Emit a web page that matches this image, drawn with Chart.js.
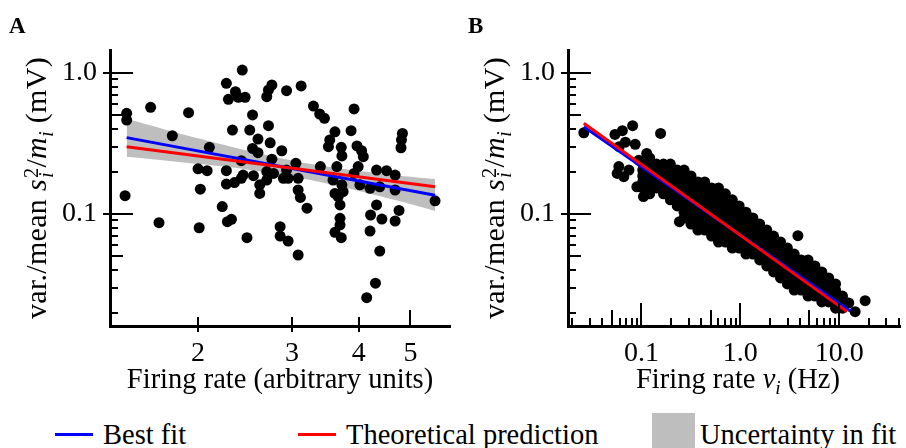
<!DOCTYPE html>
<html>
<head>
<meta charset="utf-8">
<script src="https://cdn.jsdelivr.net/npm/chart.js@4.4.1/dist/chart.umd.min.js"></script>
<style>
  body { margin:0; background:#fff; width:906px; height:448px; overflow:hidden; position:relative;
         font-family:"Liberation Serif", "Times New Roman", serif; color:#000; }
  canvas { position:absolute; top:0; }
  #chartA { left:0; }
  #chartB { left:460px; }
  .txt { position:absolute; font-size:28.5px; line-height:28.5px; white-space:nowrap; }
  .panel { position:absolute; font-weight:bold; font-size:23px; line-height:23px; }
  .ytitle { position:absolute; transform:translate(-50%,-50%) rotate(-90deg); font-size:30px; line-height:30px;
            letter-spacing:0.3px; white-space:nowrap; }
  .xtitle { position:absolute; transform:translateX(-50%); font-size:28.5px; line-height:28.5px; white-space:nowrap; }
  .ss { display:inline-block; vertical-align:-0.32em; line-height:0.72em; font-size:0.68em; margin-left:1px; }
  .ss span, .ss i { display:block; }
  .sb { font-size:0.68em; font-style:italic; vertical-align:-0.3em; }
  .swatch { position:absolute; }
</style>
</head>
<body>
<canvas id="chartA" width="460" height="400"></canvas>
<canvas id="chartB" width="446" height="400"></canvas>

<div class="panel" style="left:9px;top:14px">A</div>
<div class="panel" style="left:468px;top:14px">B</div>

<div class="ytitle" style="left:41px;top:188px">var./mean <i>s</i><span class="ss"><span>2</span><i>i</i></span>/<i>m</i><span class="sb">i</span> (mV)</div>
<div class="ytitle" style="left:499px;top:188px">var./mean <i>s</i><span class="ss"><span>2</span><i>i</i></span>/<i>m</i><span class="sb">i</span> (mV)</div>

<div class="xtitle" style="left:280px;top:365px">Firing rate (arbitrary units)</div>
<div class="xtitle" style="left:738px;top:365px">Firing rate <i>ν</i><span class="sb">i</span> (Hz)</div>

<div class="swatch" style="left:55px;top:433px;width:38px;height:3px;background:#0000ff"></div>
<div class="txt" style="left:103px;top:420.5px">Best fit</div>
<div class="swatch" style="left:298px;top:433px;width:38px;height:3px;background:#ff0000"></div>
<div class="txt" style="left:346px;top:420.5px">Theoretical prediction</div>
<div class="swatch" style="left:652px;top:413px;width:43px;height:43px;background:#bebebe"></div>
<div class="txt" style="left:700px;top:420.5px">Uncertainty in fit</div>

<script>
// ================= DATOS PANEL A =================
const rateA = [
  2.42, 2.26, 2.35, 2.28, 2.38, 2.45, 2.75, 2.71, 2.69, 2.93,
  1.63, 1.47, 1.47, 1.92, 2.53, 2.32, 2.50, 2.71, 1.79, 2.59,
  2.73, 2.10, 2.53, 2.59, 2.87, 2.75, 2.41, 2.00, 2.08, 2.26,
  2.43, 2.54, 2.69, 2.77, 2.69, 2.26, 2.34, 2.41, 2.61, 2.61,
  2.89, 1.46, 2.02, 2.22, 2.27, 2.31, 1.69, 2.01, 2.47, 2.85,
  2.85, 3.12, 3.29, 3.38, 3.45, 3.92, 3.61, 3.87, 3.53, 3.51,
  3.71, 3.72, 3.97, 4.05, 4.08, 4.83, 4.81, 4.80, 3.05, 2.93,
  2.95, 3.08, 3.39, 3.64, 3.99, 3.92, 4.32, 4.51, 4.68, 3.58,
  3.72, 4.02, 4.20, 4.38, 4.68, 3.08, 3.11, 3.20, 3.61, 3.74,
  3.66, 3.69, 4.32, 5.56, 4.21, 4.42, 4.76, 4.68, 3.69, 3.69,
  3.61, 3.71, 4.20, 2.95, 3.08, 4.38, 4.30, 4.14
];
const ratioA = [
  1.05, 0.845, 0.737, 0.651, 0.673, 0.673, 0.822, 0.758, 0.679, 0.749,
  0.571, 0.518, 0.464, 0.523, 0.504, 0.394, 0.394, 0.423, 0.359, 0.340,
  0.320, 0.297, 0.292, 0.272, 0.281, 0.245, 0.239, 0.209, 0.203, 0.203,
  0.189, 0.187, 0.200, 0.194, 0.174, 0.163, 0.167, 0.179, 0.161, 0.140,
  0.179, 0.135, 0.150, 0.113, 0.0882, 0.0917, 0.0868, 0.0799, 0.0679, 0.0813,
  0.0698, 0.809, 0.583, 0.512, 0.477, 0.556, 0.383, 0.390, 0.335, 0.300,
  0.297, 0.258, 0.304, 0.281, 0.255, 0.373, 0.335, 0.295, 0.229, 0.205,
  0.179, 0.179, 0.217, 0.217, 0.217, 0.194, 0.205, 0.203, 0.189, 0.174,
  0.161, 0.161, 0.152, 0.156, 0.148, 0.148, 0.131, 0.110, 0.140, 0.144,
  0.133, 0.116, 0.116, 0.124, 0.0984, 0.0921, 0.106, 0.0892, 0.0932, 0.0836,
  0.0742, 0.0679, 0.0757, 0.0643, 0.0512, 0.0546, 0.0323, 0.0255
];
// recta de ajuste, prediccion y banda de incertidumbre (A)
const fitRateA = [1.47, 5.56];
const bestFitA = [0.348, 0.136];
const theoryA = [0.300, 0.156];
const bandRateA = [1.47, 1.70, 2.00, 2.40, 3.06, 3.85, 4.78, 5.56];
const bandUpperA = [0.473, 0.406, 0.344, 0.289, 0.236, 0.206, 0.187, 0.177];
const bandLowerA = [0.255, 0.242, 0.227, 0.210, 0.182, 0.151, 0.123, 0.105];

// ================= DATOS PANEL B =================
// nube densa leida por columnas: tasa de cada columna y valores de la columna
const cloudRateB = [
  0.103, 0.121, 0.142, 0.167, 0.196, 0.230, 0.270, 0.317, 0.372, 0.436,
  0.512, 0.601, 0.706, 0.829, 0.973, 1.14, 1.34, 1.57, 1.85, 2.17,
  2.55, 2.99, 3.51, 4.12, 4.84, 5.68, 6.67, 7.83, 9.19, 10.8
];
const cloudRatioB = [
  [0.226, 0.205, 0.186, 0.169, 0.153],
  [0.250, 0.226, 0.205, 0.186, 0.169, 0.153, 0.139],
  [0.226, 0.205, 0.186, 0.169, 0.153],
  [0.226, 0.205, 0.186, 0.169, 0.153, 0.139],
  [0.226, 0.205, 0.186, 0.169, 0.153, 0.139, 0.126],
  [0.205, 0.186, 0.169, 0.153, 0.139, 0.126, 0.114],
  [0.205, 0.186, 0.169, 0.153, 0.139, 0.126, 0.114, 0.103, 0.0937],
  [0.186, 0.169, 0.153, 0.139, 0.126, 0.114, 0.103, 0.0937, 0.0849],
  [0.169, 0.153, 0.139, 0.126, 0.114, 0.103, 0.0937, 0.0849, 0.0770],
  [0.169, 0.153, 0.139, 0.126, 0.114, 0.103, 0.0937, 0.0849, 0.0770],
  [0.153, 0.139, 0.126, 0.114, 0.103, 0.0937, 0.0849, 0.0770, 0.0698],
  [0.153, 0.139, 0.126, 0.114, 0.103, 0.0937, 0.0849, 0.0770, 0.0698, 0.0633],
  [0.139, 0.126, 0.114, 0.103, 0.0937, 0.0849, 0.0770, 0.0698, 0.0633],
  [0.126, 0.114, 0.103, 0.0937, 0.0849, 0.0770, 0.0698, 0.0633, 0.0574],
  [0.114, 0.103, 0.0937, 0.0849, 0.0770, 0.0698, 0.0633, 0.0574],
  [0.103, 0.0937, 0.0849, 0.0770, 0.0698, 0.0633, 0.0574, 0.0520],
  [0.0937, 0.0849, 0.0770, 0.0698, 0.0633, 0.0574, 0.0520],
  [0.0849, 0.0770, 0.0698, 0.0633, 0.0574, 0.0520, 0.0472],
  [0.0770, 0.0698, 0.0633, 0.0574, 0.0520, 0.0472, 0.0428],
  [0.0698, 0.0633, 0.0574, 0.0520, 0.0472, 0.0428, 0.0388],
  [0.0633, 0.0574, 0.0520, 0.0472, 0.0428, 0.0388, 0.0352],
  [0.0574, 0.0520, 0.0472, 0.0428, 0.0388, 0.0352, 0.0319],
  [0.0520, 0.0472, 0.0428, 0.0388, 0.0352, 0.0319, 0.0289],
  [0.0472, 0.0428, 0.0388, 0.0352, 0.0319, 0.0289],
  [0.0472, 0.0428, 0.0388, 0.0352, 0.0319, 0.0289, 0.0262],
  [0.0428, 0.0388, 0.0352, 0.0319, 0.0289, 0.0262],
  [0.0388, 0.0352, 0.0319, 0.0289, 0.0262, 0.0238],
  [0.0352, 0.0319, 0.0289, 0.0262, 0.0238],
  [0.0319, 0.0289, 0.0262, 0.0238, 0.0215],
  [0.0262, 0.0238, 0.0215]
];
// puntos sueltos alrededor de la nube
const strayRateB = [0.0261, 0.0539, 0.0641, 0.0814, 0.156, 0.0687, 0.0864, 0.0594, 0.0590, 0.0568,
                    0.0662, 0.0747, 0.094, 0.113, 0.0898, 0.1047, 0.242, 3.82, 18.3, 14.5, 12.5];
const strayRatioB = [0.377, 0.367, 0.390, 0.423, 0.373, 0.323, 0.312, 0.300, 0.217, 0.194,
                     0.184, 0.205, 0.241, 0.269, 0.156, 0.133, 0.0882, 0.0702, 0.0243, 0.0203, 0.0234];
const fitRateB = [0.0261, 12.9];
const bestFitB = [0.416, 0.0205];
const theoryRateB = [0.0261, 12.0];
const theoryB = [0.440, 0.0203];

// ================= TICKS =================
const yMajor = [0.1, 1.0];
const yMid = [0.05, 0.5];
const yMinor = [0.02, 0.03, 0.04, 0.06, 0.07, 0.08, 0.09, 0.2, 0.3, 0.4, 0.6, 0.7, 0.8, 0.9];
const xTicksA = [2, 3, 4, 5];
const xMajorB = [0.1, 1, 10];
const xMidB = [0.05, 0.5, 5];
const xMinorB = [0.02, 0.03, 0.04, 0.06, 0.07, 0.08, 0.09, 0.2, 0.3, 0.4, 0.6, 0.7, 0.8, 0.9,
                 2, 3, 4, 6, 7, 8, 9, 20, 30, 40];

const FONT = "'Liberation Serif', 'Times New Roman', serif";

function pairs(xs, ys) {
  return xs.map((x, i) => ({ x, y: ys[i] }));
}

// marcas de eje dibujadas a mano (largo distinto por tipo)
const tickMarks = {
  id: "tickMarks",
  afterDraw(chart, args, opts) {
    const { ctx, chartArea: a, scales } = chart;
    ctx.save();
    ctx.strokeStyle = "#000";
    ctx.lineWidth = 2;
    opts.marks.forEach(m => {
      const sc = scales[m.axis];
      m.values.forEach(v => {
        const p = Math.round(sc.getPixelForValue(v));
        ctx.beginPath();
        if (m.axis === "y") {
          ctx.moveTo(a.left - m.out, p);
          ctx.lineTo(a.left + m.in, p);
        } else {
          ctx.moveTo(p, a.bottom + m.out);
          ctx.lineTo(p, a.bottom - m.in);
        }
        ctx.stroke();
      });
    });
    ctx.restore();
  }
};

function lineSet(data, color, order) {
  return {
    data, showLine: true, borderColor: color, borderWidth: 3,
    pointRadius: 0, fill: false, order
  };
}

function makeOptions(cfg) {
  const tickFont = { family: FONT, size: 28 };
  return {
    responsive: false,
    animation: false,
    events: [],
    layout: { padding: { top: 50, right: cfg.rightPad, left: 0, bottom: 0 } },
    plugins: {
      legend: { display: false },
      tooltip: { enabled: false },
      tickMarks: { marks: cfg.marks }
    },
    scales: {
      x: {
        type: "logarithmic",
        min: cfg.xMin, max: cfg.xMax,
        afterBuildTicks: s => { s.ticks = cfg.xLabels.map(v => ({ value: v })); },
        afterFit: s => { s.height = 74; },
        ticks: { autoSkip: false, maxRotation: 0, padding: 11, color: "#000", font: tickFont,
                 callback: cfg.xFormat },
        grid: { display: false, drawTicks: false },
        border: { display: true, color: "#000", width: 3 }
      },
      y: {
        type: "logarithmic",
        min: 0.01606, max: 1.456,
        afterBuildTicks: s => { s.ticks = yMajor.map(v => ({ value: v })); },
        afterFit: s => { s.width = cfg.yWidth; },
        ticks: { autoSkip: false, padding: 13, color: "#000", font: tickFont,
                 callback: v => Number(v).toFixed(1) },
        grid: { display: false, drawTicks: false },
        border: { display: true, color: "#000", width: 3 }
      }
    }
  };
}

const yMarks = [
  { axis: "y", values: yMajor, out: 7, in: 23 },
  { axis: "y", values: yMid, out: 0, in: 13 },
  { axis: "y", values: yMinor, out: 0, in: 8 }
];

// ================= PANEL A =================
new Chart(document.getElementById("chartA"), {
  type: "scatter",
  data: {
    datasets: [
      lineSet(pairs(fitRateA, theoryA), "#ff0000", 0),
      lineSet(pairs(fitRateA, bestFitA), "#0000ff", 1),
      { data: pairs(rateA, ratioA), pointRadius: 5.5, backgroundColor: "#000", borderWidth: 0, order: 2 },
      { data: pairs(bandRateA, bandUpperA), showLine: true, fill: "+1", backgroundColor: "#bebebe",
        borderColor: "rgba(0,0,0,0)", borderWidth: 0, pointRadius: 0, tension: 0.3, order: 3 },
      { data: pairs(bandRateA, bandLowerA), showLine: true, fill: false,
        borderColor: "rgba(0,0,0,0)", borderWidth: 0, pointRadius: 0, tension: 0.3, order: 4 }
    ]
  },
  options: makeOptions({
    xMin: 1.368, xMax: 5.93, rightPad: 10, yWidth: 110,
    xLabels: xTicksA, xFormat: v => String(v),
    marks: yMarks.concat([
      { axis: "x", values: [2, 3, 4], out: 6, in: 9 },
      { axis: "x", values: [5], out: 0, in: 16 }
    ])
  }),
  plugins: [tickMarks]
});

// ================= PANEL B =================
const cloudB = [];
cloudRateB.forEach((r, i) => cloudRatioB[i].forEach(v => cloudB.push({ x: r, y: v })));

new Chart(document.getElementById("chartB"), {
  type: "scatter",
  data: {
    datasets: [
      lineSet(pairs(theoryRateB, theoryB), "#ff0000", 0),
      lineSet(pairs(fitRateB, bestFitB), "#0000ff", 1),
      { data: cloudB.concat(pairs(strayRateB, strayRatioB)), pointRadius: 5.5,
        backgroundColor: "#000", borderWidth: 0, order: 2 }
    ]
  },
  options: makeOptions({
    xMin: 0.01806, xMax: 41.7, rightPad: 0, yWidth: 108,
    xLabels: xMajorB, xFormat: v => Number(v).toFixed(1),
    marks: yMarks.concat([
      { axis: "x", values: xMajorB, out: 0, in: 23 },
      { axis: "x", values: xMidB, out: 0, in: 16 },
      { axis: "x", values: xMinorB, out: 0, in: 8 }
    ])
  }),
  plugins: [tickMarks]
});
</script>
</body>
</html>
